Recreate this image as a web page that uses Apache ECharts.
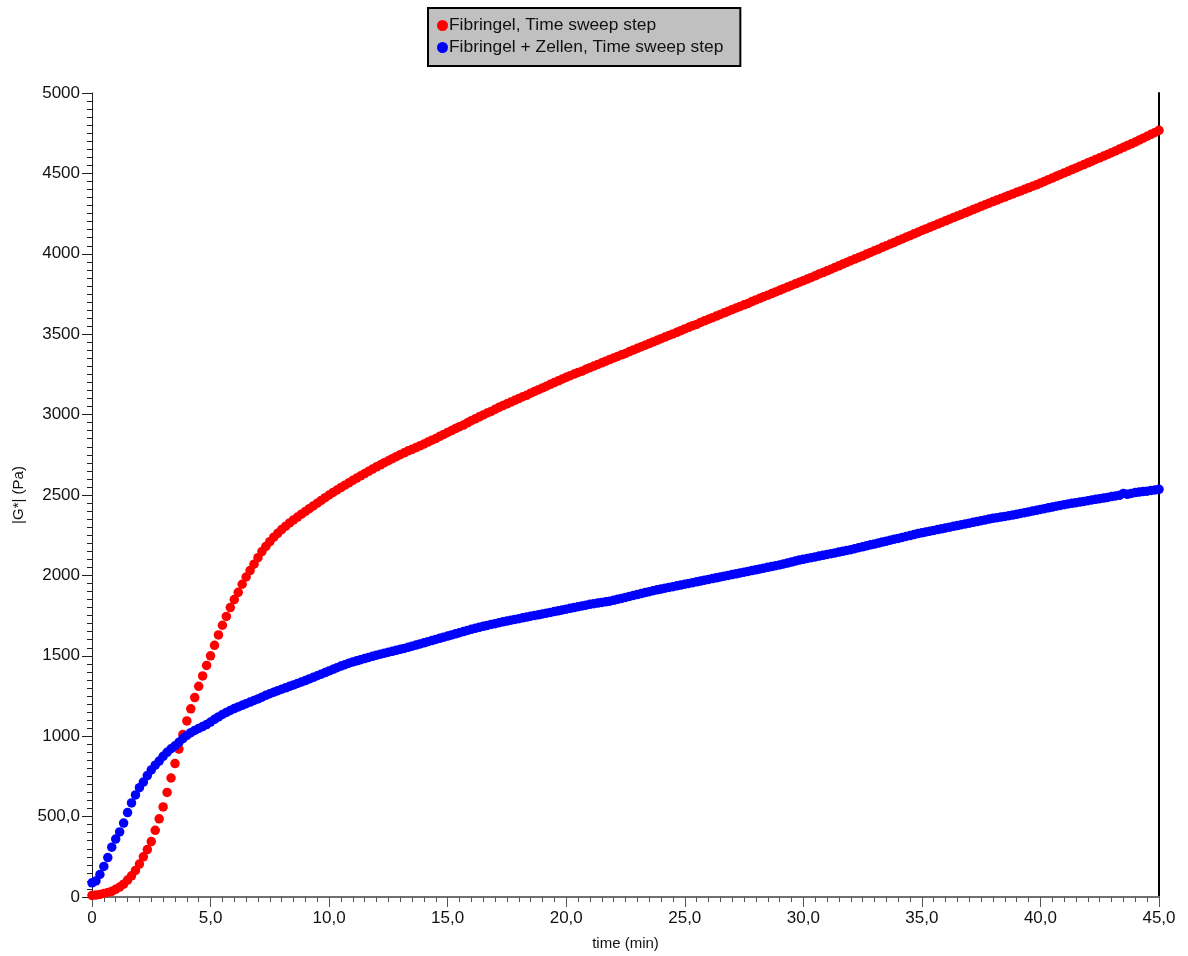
<!DOCTYPE html>
<html>
<head>
<meta charset="utf-8">
<script src="https://cdn.jsdelivr.net/npm/echarts@6/dist/echarts.min.js"></script>
<style>
html,body{margin:0;padding:0;background:#fff;}
#chart{width:1188px;height:956px;}
</style>
</head>
<body>
<div id="chart"></div>
<script>
// measurement interval: 10 s (values read every 1/6 min)
const sampleStepMin = 10 / 60;

const seriesNames = ['Fibringel, Time sweep step', 'Fibringel + Zellen, Time sweep step'];
const xTicks = [0, 5, 10, 15, 20, 25, 30, 35, 40, 45];
const yTicks = [0, 500, 1000, 1500, 2000, 2500, 3000, 3500, 4000, 4500, 5000];

// |G*| (Pa) Fibringel — one row per minute, six readings per row
const fibringel = [
  10, 12, 16, 22, 28, 35,
  48, 62, 80, 105, 132, 165,
  205, 250, 295, 345, 415, 486,
  560, 650, 740, 830, 920, 1010,
  1095, 1170, 1240, 1310, 1375, 1440,
  1500, 1565, 1630, 1690, 1745, 1800,
  1850, 1895, 1945, 1990, 2030, 2070,
  2110, 2148, 2180, 2210, 2238, 2262,
  2285, 2306, 2326, 2345, 2363, 2381,
  2398, 2415, 2432, 2449, 2466, 2483,
  2500, 2516, 2531, 2546, 2561, 2576,
  2591, 2605, 2619, 2633, 2647, 2661,
  2675, 2688, 2701, 2713, 2726, 2738,
  2751, 2762, 2775, 2784, 2795, 2806,
  2817, 2829, 2841, 2851, 2865, 2877,
  2889, 2901, 2913, 2925, 2935, 2949,
  2962, 2974, 2986, 2998, 3010, 3020,
  3033, 3045, 3056, 3067, 3078, 3089,
  3100, 3111, 3120, 3133, 3144, 3155,
  3166, 3177, 3188, 3199, 3210, 3221,
  3232, 3242, 3252, 3262, 3270, 3282,
  3292, 3302, 3312, 3322, 3332, 3342,
  3352, 3362, 3372, 3380, 3392, 3402,
  3412, 3422, 3432, 3442, 3452, 3462,
  3472, 3482, 3492, 3502, 3512, 3522,
  3533, 3543, 3553, 3561, 3573, 3583,
  3593, 3603, 3613, 3623, 3633, 3643,
  3653, 3663, 3673, 3683, 3691, 3703,
  3713, 3723, 3733, 3743, 3753, 3763,
  3773, 3783, 3793, 3803, 3813, 3823,
  3833, 3843, 3853, 3863, 3875, 3883,
  3894, 3904, 3915, 3925, 3936, 3946,
  3957, 3967, 3977, 3987, 3998, 4008,
  4019, 4029, 4040, 4050, 4061, 4071,
  4082, 4092, 4103, 4113, 4124, 4134,
  4145, 4155, 4165, 4175, 4185, 4195,
  4205, 4215, 4225, 4235, 4245, 4255,
  4265, 4275, 4285, 4295, 4305, 4315,
  4325, 4334, 4344, 4353, 4363, 4372,
  4382, 4391, 4401, 4410, 4420, 4429,
  4440, 4450, 4461, 4471, 4482, 4492,
  4503, 4513, 4524, 4534, 4545, 4555,
  4566, 4576, 4587, 4597, 4608, 4618,
  4629, 4640, 4651, 4662, 4673, 4684,
  4695, 4707, 4719, 4731, 4743, 4755,
  4768
];

// |G*| (Pa) Fibringel + Zellen — one row per minute, six readings per row
const fibringelZellen = [
  88, 100, 140, 190, 245, 310,
  360, 405, 460, 525, 585, 635,
  680, 715, 755, 790, 820, 845,
  875, 900, 922, 940, 962, 985,
  1005, 1022, 1036, 1048, 1060, 1072,
  1088, 1105, 1120, 1135, 1148, 1160,
  1172, 1182, 1192, 1202, 1212, 1222,
  1232, 1243, 1254, 1264, 1274, 1283,
  1292, 1301, 1310, 1319, 1328, 1337,
  1346, 1356, 1366, 1376, 1386, 1396,
  1406, 1416, 1426, 1436, 1445, 1454,
  1462, 1469, 1476, 1483, 1490, 1497,
  1504, 1510, 1516, 1522, 1528, 1534,
  1540, 1546, 1553, 1560, 1567, 1574,
  1581, 1588, 1595, 1602, 1609, 1616,
  1623, 1630, 1637, 1644, 1651, 1658,
  1665, 1671, 1677, 1683, 1689, 1695,
  1700, 1706, 1711, 1716, 1721, 1726,
  1731, 1736, 1741, 1746, 1751, 1755,
  1760, 1765, 1770, 1775, 1780, 1785,
  1790, 1795, 1800, 1805, 1810, 1815,
  1820, 1824, 1828, 1832, 1836, 1840,
  1845, 1851, 1857, 1863, 1869, 1875,
  1881, 1887, 1893, 1899, 1905, 1910,
  1915, 1920, 1925, 1930, 1935, 1940,
  1945, 1950, 1955, 1960, 1965, 1970,
  1975, 1980, 1985, 1990, 1995, 2000,
  2005, 2010, 2015, 2020, 2025, 2030,
  2035, 2040, 2045, 2050, 2055, 2060,
  2065, 2071, 2077, 2083, 2089, 2095,
  2100, 2105, 2110, 2115, 2120, 2125,
  2130, 2135, 2140, 2145, 2150, 2155,
  2160, 2166, 2172, 2178, 2184, 2190,
  2195, 2201, 2207, 2213, 2219, 2225,
  2230, 2236, 2242, 2248, 2254, 2260,
  2265, 2270, 2275, 2280, 2285, 2290,
  2295, 2300, 2305, 2310, 2315, 2320,
  2325, 2330, 2335, 2340, 2345, 2350,
  2355, 2359, 2363, 2367, 2371, 2375,
  2380, 2385, 2390, 2395, 2400, 2405,
  2410, 2415, 2420, 2425, 2430, 2435,
  2440, 2444, 2448, 2452, 2456, 2460,
  2465, 2469, 2473, 2477, 2481, 2485,
  2490, 2494, 2498, 2510, 2504, 2510,
  2515, 2518, 2521, 2524, 2528, 2531,
  2535
];

const toPairs = vals => vals.map((v, i) => [i * sampleStepMin, v]);

const fmtX = v => v === 0 ? '0' : v.toFixed(1).replace('.', ',');
const fmtY = v => v === 0 ? '0' : (v < 1000 ? v.toFixed(1).replace('.', ',') : String(v));

const font = 'Liberation Sans, Arial, sans-serif';
const chart = echarts.init(document.getElementById('chart'), null, {renderer: 'canvas'});
chart.setOption({
  animation: false,
  backgroundColor: '#ffffff',
  legend: {
    orient: 'vertical',
    left: 428,
    top: 8,
    padding: [9, 17, 10, 9],
    itemGap: 5,
    itemWidth: 11,
    itemHeight: 11,
    icon: 'circle',
    backgroundColor: '#c0c0c0',
    borderColor: '#000000',
    borderWidth: 2,
    textStyle: {fontFamily: font, fontSize: 17.4, color: '#111', padding: [0, 0, 0, -4]},
    data: seriesNames
  },
  grid: {left: 92, right: 29, top: 93, bottom: 54, containLabel: false},
  xAxis: {
    type: 'value',
    min: xTicks[0],
    max: xTicks[xTicks.length - 1],
    interval: 5,
    name: 'time (min)',
    nameLocation: 'middle',
    nameGap: 39,
    nameTextStyle: {fontFamily: font, fontSize: 15, color: '#111'},
    axisLine: {show: true, lineStyle: {color: '#707070', width: 2}},
    axisTick: {show: true, length: 10, lineStyle: {color: '#555'}},
    minorTick: {show: true, splitNumber: 10, length: 5, lineStyle: {color: '#555'}},
    axisLabel: {fontFamily: font, fontSize: 17, color: '#111', margin: 13, formatter: fmtX},
    splitLine: {show: false}
  },
  yAxis: [{
    type: 'value',
    min: yTicks[0],
    max: yTicks[yTicks.length - 1],
    interval: 500,
    name: '|G*| (Pa)',
    nameLocation: 'middle',
    nameGap: 63,
    nameRotate: 90,
    nameTextStyle: {fontFamily: font, fontSize: 15, color: '#111'},
    axisLine: {show: true, lineStyle: {color: '#222', width: 1}},
    axisTick: {show: true, length: 10, lineStyle: {color: '#222'}},
    minorTick: {show: true, splitNumber: 10, length: 5, lineStyle: {color: '#222'}},
    axisLabel: {fontFamily: font, fontSize: 17, color: '#111', margin: 12, formatter: fmtY},
    splitLine: {show: false}
  }, {
    type: 'value',
    position: 'right',
    min: 0,
    max: 5000,
    axisLine: {show: true, lineStyle: {color: '#000', width: 2}},
    axisTick: {show: false},
    axisLabel: {show: false},
    splitLine: {show: false}
  }],
  series: [{
    name: seriesNames[0],
    type: 'scatter',
    symbol: 'circle',
    symbolSize: 9.5,
    itemStyle: {color: '#ff0000', opacity: 1},
    data: toPairs(fibringel)
  }, {
    name: seriesNames[1],
    type: 'scatter',
    symbol: 'circle',
    symbolSize: 9.5,
    itemStyle: {color: '#0000ff', opacity: 1},
    data: toPairs(fibringelZellen)
  }]
});
</script>
</body>
</html>
